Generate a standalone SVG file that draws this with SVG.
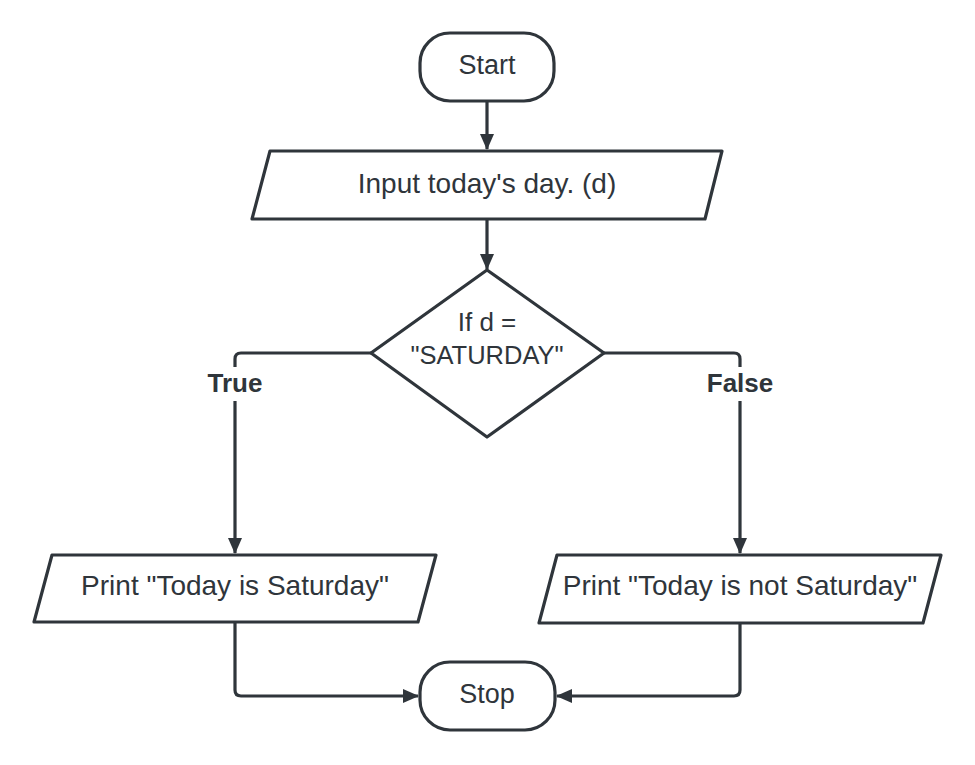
<svg xmlns="http://www.w3.org/2000/svg" width="975" height="765" viewBox="0 0 975 765">
<defs>
<style>
.shape{fill:#fff;stroke:#2f353b;stroke-width:3.2;stroke-linejoin:round}
.conn{fill:none;stroke:#2f353b;stroke-width:3.2;stroke-linejoin:round}
.t{font-family:"Liberation Sans",Arial,sans-serif;font-size:28px;fill:#2f353b;text-anchor:middle}
.lbl{font-family:"Liberation Sans",Arial,sans-serif;font-size:26px;font-weight:bold;fill:#2f353b;text-anchor:middle}
</style>
<marker id="ah" markerWidth="16" markerHeight="14" viewBox="0 0 16 14" refX="15" refY="7" orient="auto" markerUnits="userSpaceOnUse">
<path d="M0,0 L16,7 L0,14 Z" fill="#2f353b"/>
</marker>
</defs>
<rect width="975" height="765" fill="#fff"/>
<g id="connectors">
<path class="conn" d="M487,102 L487,149" marker-end="url(#ah)"/>
<path class="conn" d="M487,220 L487,269" marker-end="url(#ah)"/>
<path class="conn" d="M371,353 L241,353 Q235,353 235,359 L235,553" marker-end="url(#ah)"/>
<path class="conn" d="M604,353 L734,353 Q740,353 740,359 L740,553" marker-end="url(#ah)"/>
<path class="conn" d="M235,623 L235,690 Q235,696 241,696 L418,696" marker-end="url(#ah)"/>
<path class="conn" d="M740,623 L740,690 Q740,696 734,696 L557,696" marker-end="url(#ah)"/>
<rect x="200" y="367" width="70" height="34" fill="#fff"/>
<text class="lbl" x="235" y="392">True</text>
<rect x="700" y="367" width="80" height="34" fill="#fff"/>
<text class="lbl" x="740" y="392">False</text>
</g>
<g id="start">
<rect class="shape" x="420" y="33" width="134" height="68" rx="30" ry="30"/>
<text class="t" x="487" y="74" style="font-size:27px">Start</text>
</g>
<g id="input">
<path class="shape" d="M270,151 L722,151 L705,219 L252,219 Z"/>
<text class="t" x="487" y="193">Input today's day. (d)</text>
</g>
<g id="decision">
<path class="shape" d="M487,270 L604,353 L487,437 L371,353 Z"/>
<text class="t" x="487" y="331" style="font-size:26px">If d =</text>
<text class="t" x="487" y="364" style="font-size:25.5px">"SATURDAY"</text>
</g>
<g id="print-true">
<path class="shape" d="M52,555 L436,555 L418,622 L34,622 Z"/>
<text class="t" x="235" y="595">Print "Today is Saturday"</text>
</g>
<g id="print-false">
<path class="shape" d="M557,555 L941,555 L923,623 L539,623 Z"/>
<text class="t" x="740" y="595">Print "Today is not Saturday"</text>
</g>
<g id="stop">
<rect class="shape" x="420" y="662" width="135" height="68" rx="30" ry="30"/>
<text class="t" x="487" y="703" style="font-size:27px">Stop</text>
</g>
</svg>
